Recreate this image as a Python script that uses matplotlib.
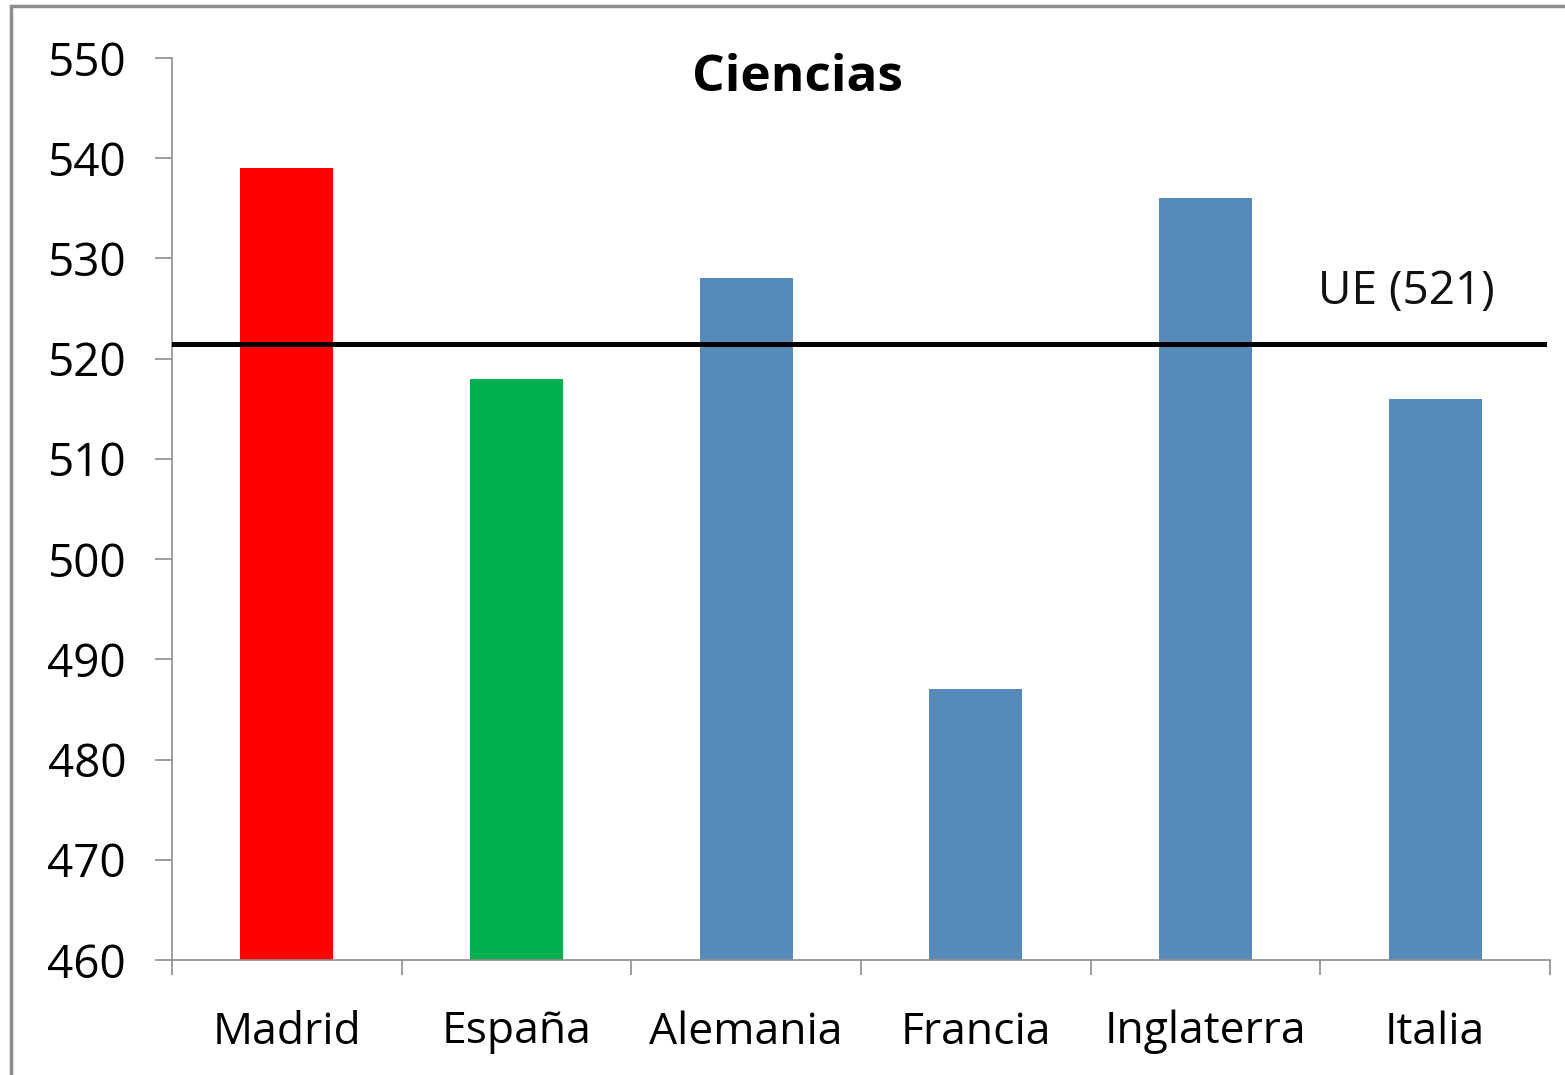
import matplotlib
matplotlib.use("Agg")
import matplotlib.pyplot as plt
from matplotlib.patches import Rectangle

# -------------------------------
# DATA
# -------------------------------
countries = ["Madrid", "España", "Alemania", "Francia", "Inglaterra", "Italia"]
scores = [539, 518, 528, 487, 536, 516]
bar_colors = ["#ff0000", "#00b050", "#558ab9", "#558ab9", "#558ab9", "#558ab9"]
ue_value = 521
ue_label = "UE (521)"
y_ticks = [460, 470, 480, 490, 500, 510, 520, 530, 540, 550]

plt.rcParams["font.family"] = ["Open Sans", "DejaVu Sans"]

W, H = 1565, 1075
fig = plt.figure(figsize=(W / 100, H / 100), dpi=100)
ax = fig.add_axes([172 / W, 1 - 960 / H, (1550 - 172) / W, (960 - 58) / H])

# outer gray frame (only left and top edges visible)
fig.patches.append(Rectangle((11 / W, -0.05), 1.1, 1.05 - 6 / H, transform=fig.transFigure,
                             fill=False, edgecolor="#8c8c8c", linewidth=2.5))

x = list(range(len(countries)))
ax.bar(x, scores, width=0.405, color=bar_colors)
ax.set_ylim(460, 550)
ax.set_xlim(-0.5, len(countries) - 0.5)

# EU average line
ax.axhline(ue_value + 0.45, xmin=0, xmax=0.996, color="black", linewidth=3.6, zorder=3)
ax.text(4.49, ue_value + 4.5, ue_label, fontsize=33, ha="left", va="baseline", color="#111111")

fig.text(797 / W, 1 - 78 / H, "Ciencias", fontsize=37, fontweight="bold",
         ha="center", va="center")

# axes style
for s in ["top", "right"]:
    ax.spines[s].set_visible(False)
for s in ["left", "bottom"]:
    ax.spines[s].set_color("#8c8c8c")
    ax.spines[s].set_linewidth(1.2)

ax.set_yticks(y_ticks)
ax.tick_params(axis="y", labelsize=33, length=12, width=1.2, color="#8c8c8c", pad=21)

ax.set_xticks(x)
ax.set_xticklabels(countries)
ax.tick_params(axis="x", which="major", length=0, labelsize=32, pad=36)
ax.set_xticks([i - 0.5 for i in range(len(countries) + 1)], minor=True)
ax.tick_params(axis="x", which="minor", length=11, width=1.2, color="#8c8c8c")

fig.savefig("out.png", dpi=100)
